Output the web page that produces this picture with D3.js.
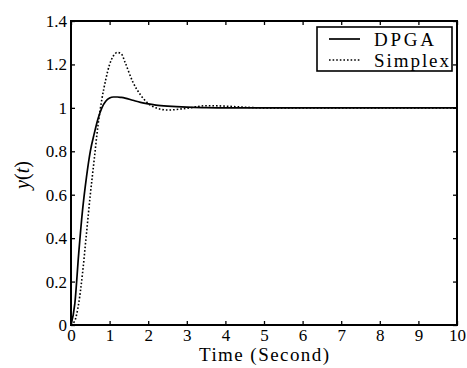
<!DOCTYPE html>
<html>
<head>
<meta charset="utf-8">
<script src="https://cdn.jsdelivr.net/npm/d3@7"></script>
<style>
  body { margin: 0; background: #fff; }
  text { font-family: "Liberation Serif", "Times New Roman", serif; fill: #000; }
</style>
</head>
<body>
<svg id="chart"></svg>
<script>
var width = 467;
var height = 368;
var margin = {top: 21, right: 10, bottom: 43, left: 71};
var serif = '"Liberation Serif", "Times New Roman", serif';

// time samples (seconds)
var time = [0, 0.1, 0.2, 0.3, 0.4, 0.5, 0.6, 0.7, 0.8, 0.9, 1.0, 1.1, 1.2, 1.3, 1.4, 1.6, 1.8, 2.0, 2.2, 2.5, 3, 3.5, 4, 4.5, 5, 6, 7, 8, 9, 10];
var dpga = [0, 0.1, 0.33, 0.53, 0.68, 0.8, 0.88, 0.95, 1.0, 1.03, 1.045, 1.05, 1.05, 1.048, 1.045, 1.035, 1.025, 1.018, 1.013, 1.008, 1.003, 1.001, 1.0, 1.0, 1.0, 1.0, 1.0, 1.0, 1.0, 1.0];
var simplex = [0, 0.02, 0.1, 0.24, 0.42, 0.6, 0.76, 0.92, 1.04, 1.13, 1.2, 1.24, 1.255, 1.25, 1.21, 1.12, 1.06, 1.02, 1.0, 0.99, 0.998, 1.01, 1.008, 1.003, 1.0, 1.0, 1.0, 1.0, 1.0, 1.0];

var xTicks = [0, 1, 2, 3, 4, 5, 6, 7, 8, 9, 10];
var yTicks = [0, 0.2, 0.4, 0.6, 0.8, 1, 1.2, 1.4];
var legendNames = ["DPGA", "Simplex"];
var legendWidths = [60, 75];

var svg = d3.select('#chart')
            .attr('width', width)
            .attr('height', height);

var xScale = d3.scaleLinear()
               .domain([0, 10])
               .range([margin.left, width - margin.right]);

var yScale = d3.scaleLinear()
               .domain([0, 1.4])
               .range([height - margin.bottom, margin.top]);

var innerH = height - margin.top - margin.bottom;
var innerW = width - margin.left - margin.right;

// axes with inward ticks
function fmt(d){ return String(d); }

svg.append('g')
   .attr('transform', `translate(0, ${height - margin.bottom})`)
   .call(d3.axisBottom(xScale).tickValues(xTicks).tickFormat(fmt).tickSize(-4).tickSizeOuter(0).tickPadding(4))
   .call(g => g.select('.domain').remove());

svg.append('g')
   .attr('transform', `translate(0, ${margin.top})`)
   .call(d3.axisTop(xScale).tickValues(xTicks).tickFormat('').tickSize(-4).tickSizeOuter(0))
   .call(g => g.select('.domain').remove());

svg.append('g')
   .attr('transform', `translate(${margin.left}, 0)`)
   .call(d3.axisLeft(yScale).tickValues(yTicks).tickFormat(fmt).tickSize(-4).tickSizeOuter(0).tickPadding(4))
   .call(g => g.select('.domain').remove());

svg.append('g')
   .attr('transform', `translate(${width - margin.right}, 0)`)
   .call(d3.axisRight(yScale).tickValues(yTicks).tickFormat('').tickSize(-4).tickSizeOuter(0))
   .call(g => g.select('.domain').remove());

svg.selectAll('g').attr('font-family', null);
svg.selectAll('.tick line').attr('stroke', '#000').attr('stroke-width', 1.3);
svg.selectAll('.tick text')
   .style('font-family', serif)
   .style('font-size', '17px')
   .attr('fill', '#000');

var line = d3.line()
             .x((d, i) => xScale(time[i]))
             .y(d => yScale(d))
             .curve(d3.curveMonotoneX);

svg.append('path')
   .datum(simplex)
   .attr('fill', 'none')
   .attr('stroke', '#000')
   .attr('stroke-width', 1.6)
   .attr('stroke-dasharray', '1.6,2')
   .attr('d', line);

svg.append('path')
   .datum(dpga)
   .attr('fill', 'none')
   .attr('stroke', '#000')
   .attr('stroke-width', 1.7)
   .attr('d', line);

// frame
svg.append('rect')
   .attr('x', margin.left)
   .attr('y', margin.top)
   .attr('width', innerW)
   .attr('height', innerH)
   .attr('fill', 'none')
   .attr('stroke', '#000')
   .attr('stroke-width', 2);

// legend
var legend = svg.append('g').attr('transform', 'translate(317, 27)');
legend.append('rect')
      .attr('width', 135)
      .attr('height', 44)
      .attr('fill', '#fff')
      .attr('stroke', '#000')
      .attr('stroke-width', 1.6);

legendNames.forEach(function(name, i){
  var y = 12 + i * 21;
  legend.append('line')
        .attr('x1', 12).attr('x2', 43)
        .attr('y1', y).attr('y2', y)
        .attr('stroke', '#000')
        .attr('stroke-width', 1.7)
        .attr('stroke-dasharray', i === 1 ? '1.6,2' : null);
  legend.append('text')
        .attr('x', 57)
        .attr('y', y)
        .attr('dy', '0.35em')
        .attr('textLength', legendWidths[i])
        .attr('lengthAdjust', 'spacing')
        .style('font-size', '19px')
        .text(name);
});

// axis labels
svg.append('text')
   .attr('x', margin.left + innerW / 2 - 65)
   .attr('y', height - 7)
   .attr('textLength', 130)
   .attr('lengthAdjust', 'spacing')
   .style('font-size', '19px')
   .text('Time (Second)');

var yl = svg.append('text')
   .attr('transform', `translate(29, 175) rotate(-90)`)
   .style('text-anchor', 'middle')
   .style('font-size', '20px');
yl.append('tspan').style('font-style', 'italic').text('y');
yl.append('tspan').text('(');
yl.append('tspan').style('font-style', 'italic').text('t');
yl.append('tspan').text(')');
</script>
</body>
</html>
